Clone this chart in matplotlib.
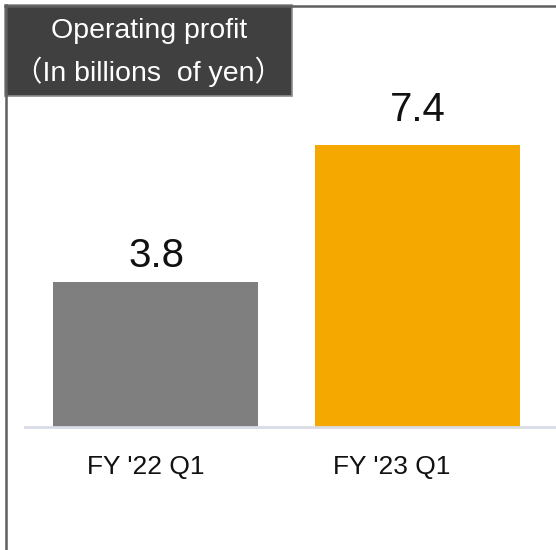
import matplotlib
matplotlib.use("Agg")
import matplotlib.pyplot as plt
from matplotlib.patches import Rectangle
from matplotlib.lines import Line2D
import matplotlib.transforms as mtransforms

categories = ["FY '22 Q1", "FY '23 Q1"]
values = [3.8, 7.4]
bar_colors = ["#7F7F7F", "#F5A800"]
title_line1 = "Operating profit"
title_line2 = "（In billions  of yen）"

W, H = 556, 550
fig = plt.figure(figsize=(W / 100, H / 100), dpi=100)
fig.patch.set_facecolor("white")

def px(x, y):
    return x / W, 1 - y / H

# axes: x from 25 to 556 px, baseline at y=427, top at y=100
ax = fig.add_axes([25 / W, (H - 427) / H, 531 / W, 327 / H])
ax.set_xlim(-0.501, 1.530)
ax.set_ylim(0, 327 / 38.15)
x = list(range(len(categories)))
bars = ax.bar(x, values, width=0.784, color=bar_colors, zorder=2)
for spine in ["top", "right", "left"]:
    ax.spines[spine].set_visible(False)
ax.spines["bottom"].set_color("#D9DCE6")
ax.spines["bottom"].set_linewidth(2)
ax.set_yticks([])
ax.set_xticks(x)
ax.set_xticklabels(categories, fontsize=19, family="Liberation Sans", color="#111111")
ax.tick_params(axis="x", length=0, pad=20)
# tick labels sit slightly left of bar centres in the reference
label_shifts_px = [-10, -26]
for lab, s in zip(ax.get_xticklabels(), label_shifts_px):
    lab.set_transform(lab.get_transform() +
                      mtransforms.ScaledTranslation(s / 100, 0, fig.dpi_scale_trans))
ax.set_facecolor("none")

value_offsets_pt = [5, 11]
for xi, v, off in zip(x, values, value_offsets_pt):
    ax.annotate(f"{v:.1f}", (xi, v), xytext=(0, off), textcoords="offset points",
                ha="center", va="bottom", fontsize=29, family="Liberation Sans",
                color="#111111")

# frame lines (top and left)
fig.add_artist(Line2D([5 / W, 1], [1 - 5.5 / H, 1 - 5.5 / H], color="#5E5E5E", lw=1.8,
                      transform=fig.transFigure))
fig.add_artist(Line2D([6 / W, 6 / W], [0, 1 - 5 / H], color="#5E5E5E", lw=1.8,
                      transform=fig.transFigure))

# title box
x0, y0 = px(5, 96)
fig.add_artist(Rectangle((x0, y0), (292 - 5) / W, (96 - 5) / H, transform=fig.transFigure,
                         facecolor="#404040", edgecolor="#8C8C8C", lw=1.2))
fig.text(149 / W, 1 - 31 / H, title_line1, ha="center", va="center", color="white",
         fontsize=20.5, family=["Liberation Sans", "Noto Sans CJK JP"])
fig.text(149 / W, 1 - 72 / H, title_line2, ha="center", va="center", color="white",
         fontsize=20.5, family=["Liberation Sans", "Noto Sans CJK JP"])

fig.savefig("out.png", dpi=100)
